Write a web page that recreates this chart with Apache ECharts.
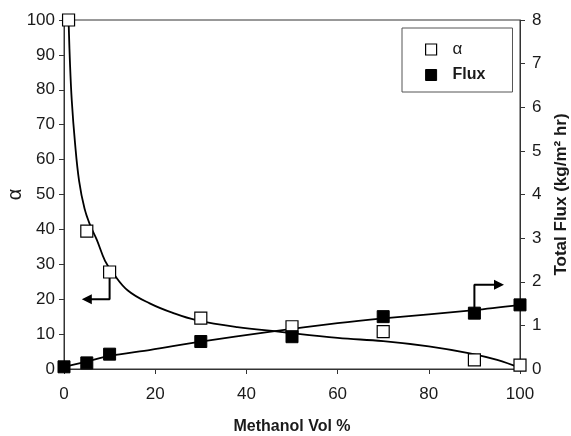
<!DOCTYPE html>
<html>
<head>
<meta charset="utf-8">
<script src="https://cdn.jsdelivr.net/npm/echarts@6/dist/echarts.min.js"></script>
<style>
  html, body { margin: 0; padding: 0; background: #fff; }
  #chart { width: 571px; height: 436px; }
</style>
</head>
<body>
<div id="chart"></div>
<script>
// measured points
const alphaMethanol = [1, 5, 10, 30, 50, 70, 90, 100];
const alphaValues = [100, 39.5, 27.8, 14.6, 12.1, 10.7, 2.6, 1.1];
const fluxMethanol = [0, 5, 10, 30, 50, 70, 90, 100];
const fluxValues = [0.05, 0.14, 0.34, 0.63, 0.74, 1.2, 1.28, 1.47];

// trend curves
const alphaCurveX = [1, 1.3, 1.7, 2.4, 3.3, 4.5, 5.8, 7.2, 9, 10.8, 14, 18.8, 24, 29, 38, 47, 60, 70, 80, 89, 95, 100];
const alphaCurveY = [100, 88, 77, 65, 54, 46, 41, 37, 31, 27.4, 22.5, 18.8, 16, 14, 12, 10.7, 8.9, 8, 6.5, 4.5, 2.6, 0.3];
const fluxCurveX = [0, 5, 10, 19, 30, 45, 60, 70, 90, 100];
const fluxCurveY = [0.05, 0.17, 0.3, 0.44, 0.63, 0.85, 1.05, 1.16, 1.35, 1.47];

// pointer arrows: which axis each curve belongs to
const alphaArrow = [[10, 27.8], [10, 20], [5, 20]];
const fluxArrow = [[90, 1.28], [90, 1.93], [95.4, 1.93]];

const xTicks = [0, 20, 40, 60, 80, 100];

const FONT = '"Liberation Sans", Arial, sans-serif';
const INK = '#1a1a1a';

const zip = (xs, ys) => xs.map((x, i) => [x, ys[i]]);

function arrowData(pts, rotate) {
  return pts.map((p, i) => (i === pts.length - 1
    ? { value: p, symbol: 'triangle', symbolRotate: rotate, symbolSize: [10, 10] }
    : { value: p, symbol: 'none' }));
}

const chart = echarts.init(document.getElementById('chart'));

const option = {
  backgroundColor: '#fff',
  animation: false,
  textStyle: { fontFamily: FONT, color: INK },
  grid: {
    left: 64, right: 51, top: 20, bottom: 67,
    outerBoundsMode: 'none',
    containLabel: false,
    show: true, borderColor: '#333', borderWidth: 1, backgroundColor: 'transparent',
  },
  legend: {
    left: 402,
    top: 28,
    orient: 'vertical',
    padding: [13, 27, 9, 23],
    itemGap: 9,
    itemWidth: 11,
    itemHeight: 11,
    borderColor: '#555',
    borderWidth: 1,
    backgroundColor: '#fff',
    data: [
      { name: 'α', icon: 'rect', itemStyle: { color: '#fff', borderColor: '#000', borderWidth: 1.2, opacity: 1 } },
      { name: 'Flux', icon: 'rect', itemStyle: { color: '#000', borderColor: '#000', borderWidth: 1, opacity: 1 } },
    ],
    formatter: (name) => (name === 'Flux' ? '{b|Flux}' : '{a|α}'),
    textStyle: {
      rich: {
        a: { fontFamily: FONT, fontSize: 17, color: INK, padding: [0, 0, 0, 11] },
        b: { fontFamily: FONT, fontSize: 16, fontWeight: 'bold', color: INK, padding: [0, 0, 0, 11] },
      },
    },
  },
  xAxis: {
    type: 'value',
    min: xTicks[0],
    max: xTicks[xTicks.length - 1],
    interval: 20,
    name: 'Methanol Vol %',
    nameLocation: 'middle',
    nameGap: 50,
    nameTextStyle: { fontSize: 16, fontWeight: 'bold', color: INK },
    axisLine: { onZero: false, lineStyle: { color: '#333', width: 1 } },
    axisTick: { show: true, length: 5, lineStyle: { color: '#333' } },
    splitLine: { show: false },
    axisLabel: { fontSize: 17, color: INK, margin: 17 },
  },
  yAxis: [
    {
      type: 'value',
      min: 0,
      max: 100,
      interval: 10,
      name: 'α',
      nameLocation: 'middle',
      nameRotate: 90,
      nameGap: 39,
      nameMoveOverlap: false,
      nameTextStyle: { fontSize: 20, color: INK },
      axisLine: { show: true, lineStyle: { color: '#333', width: 1 } },
      axisTick: { show: true, length: 5, lineStyle: { color: '#333' } },
      splitLine: { show: false },
      axisLabel: { fontSize: 17, color: INK, margin: 9 },
    },
    {
      type: 'value',
      position: 'right',
      min: 0,
      max: 8,
      interval: 1,
      name: 'Total Flux (kg/m² hr)',
      nameLocation: 'middle',
      nameRotate: 90,
      nameGap: 33,
      nameMoveOverlap: false,
      nameTextStyle: { fontSize: 17, fontWeight: 'bold', color: INK },
      axisLine: { show: true, lineStyle: { color: '#333', width: 1 } },
      axisTick: { show: true, length: 5, lineStyle: { color: '#333' } },
      splitLine: { show: false },
      axisLabel: { fontSize: 17, color: INK, margin: 12 },
    },
  ],
  series: [
    {
      name: 'alpha fit',
      type: 'line',
      yAxisIndex: 0,
      smooth: 0.4,
      showSymbol: false,
      lineStyle: { color: '#000', width: 1.8 },
      data: zip(alphaCurveX, alphaCurveY),
      z: 2,
    },
    {
      name: 'flux fit',
      type: 'line',
      yAxisIndex: 1,
      smooth: 0.3,
      showSymbol: false,
      lineStyle: { color: '#000', width: 1.8 },
      data: zip(fluxCurveX, fluxCurveY),
      z: 2,
    },
    {
      name: 'alpha arrow',
      type: 'line',
      yAxisIndex: 0,
      symbol: 'none',
      showSymbol: true,
      lineStyle: { color: '#000', width: 2 },
      itemStyle: { color: '#000' },
      data: arrowData(alphaArrow, 90),
      z: 3,
    },
    {
      name: 'flux arrow',
      type: 'line',
      yAxisIndex: 1,
      symbol: 'none',
      showSymbol: true,
      lineStyle: { color: '#000', width: 2 },
      itemStyle: { color: '#000' },
      data: arrowData(fluxArrow, -90),
      z: 3,
    },
    {
      name: 'α',
      type: 'scatter',
      yAxisIndex: 0,
      symbol: 'rect',
      symbolSize: 12,
      itemStyle: { color: '#fff', borderColor: '#000', borderWidth: 1.2, opacity: 1 },
      data: zip(alphaMethanol, alphaValues),
      z: 4,
    },
    {
      name: 'Flux',
      type: 'scatter',
      yAxisIndex: 1,
      symbol: 'rect',
      symbolSize: 12,
      itemStyle: { color: '#000', borderColor: '#000', borderWidth: 1, opacity: 1 },
      data: zip(fluxMethanol, fluxValues),
      z: 5,
    },
  ],
};

chart.setOption(option);
</script>
</body>
</html>
